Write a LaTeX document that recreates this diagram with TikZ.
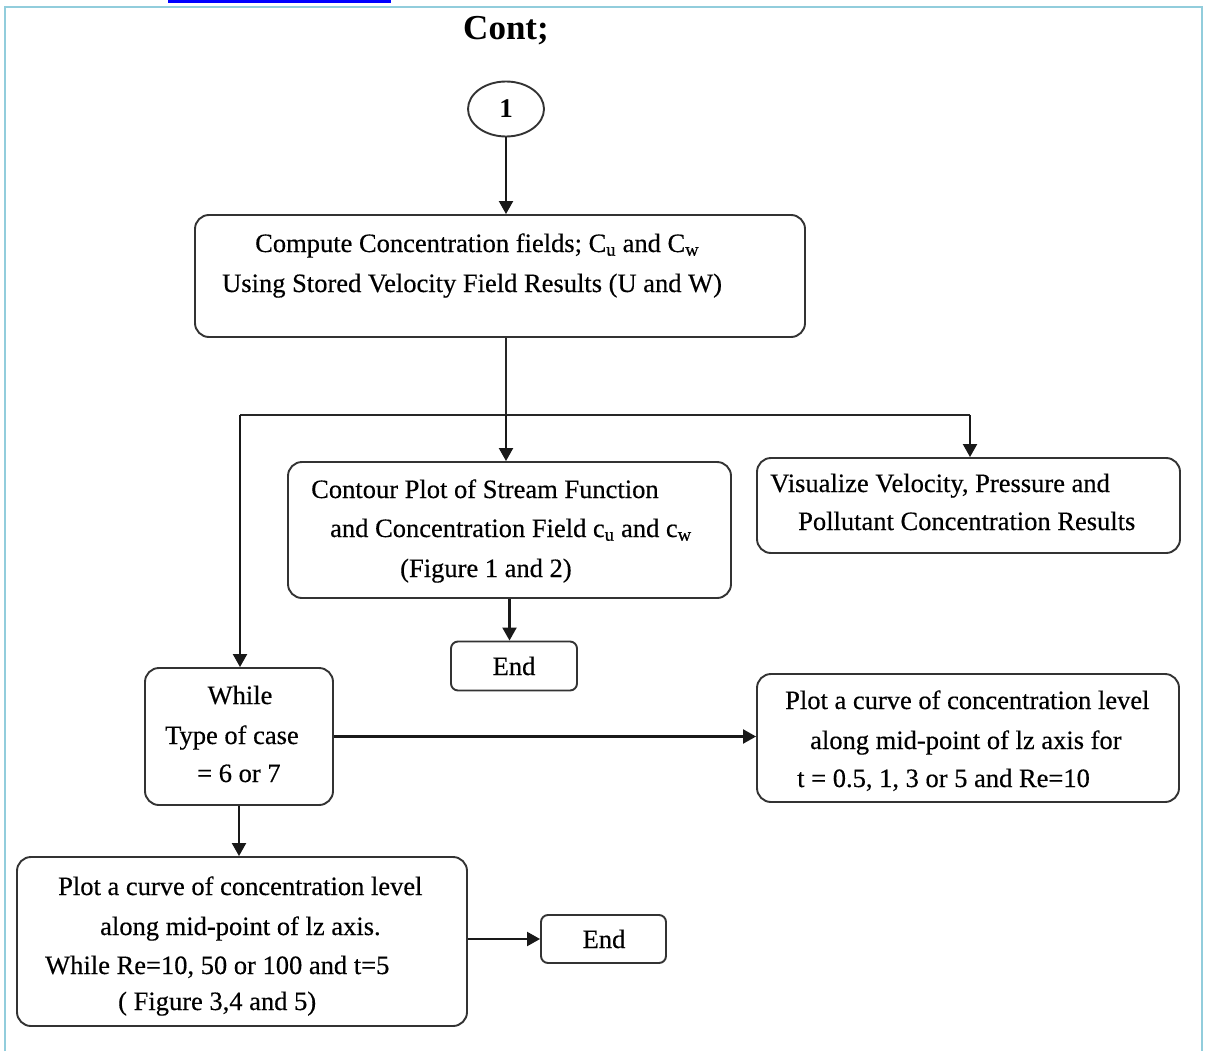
\documentclass[tikz,border=0pt]{standalone}
\usepackage{fontspec}
\setmainfont{Liberation Serif}
\newfontfamily\heavyserif{Liberation Serif}[FakeBold=0.4]
\usetikzlibrary{arrows.meta,shapes.geometric}
\definecolor{frameblue}{HTML}{92CDDC}
\definecolor{linkblue}{HTML}{0000FF}
\definecolor{boxline}{HTML}{333333}
\begin{document}
\begin{tikzpicture}[x=1pt,y=-1pt,
  box/.style={draw=boxline, line width=1.9pt, rounded corners=14pt, inner sep=0pt},
  endbox/.style={box, rounded corners=7pt},
  txt/.style={inner sep=0pt, anchor=base west, font=\heavyserif\fontsize{26.5}{30}\selectfont},
  ctxt/.style={txt, anchor=base},
  arr/.style={line width=2.1pt, draw=black!90, -{Triangle[length=13pt,width=14pt]}},
  ln/.style={line width=2pt, draw=black!85}]
\useasboundingbox (0,0) rectangle (1206,1051);
\fill[white] (0,0) rectangle (1206,1051);
% page frame and link fragment
\fill[linkblue] (168,0) rectangle (391,3);
\draw[frameblue, line width=2.5pt] (5,1051) -- (5,7) -- (1202,7) -- (1202,1051);
% title
\node[inner sep=0pt, anchor=base, font=\fontsize{35}{38}\selectfont\bfseries] (title) at (506,40) {Cont;};
% start connector
\node[draw=boxline, line width=1.9pt, ellipse, minimum width=76pt, minimum height=55pt, inner sep=0pt,
      font=\fontsize{27}{30}\selectfont\bfseries] (c1) at (506,109) {1};
% boxes
\node[box, minimum width=610pt, minimum height=122pt] (b1) at (500,276) {};
\node[box, minimum width=443pt, minimum height=136pt] (b2) at (509.5,530) {};
\node[box, minimum width=423pt, minimum height=95pt] (b3) at (968.5,505.5) {};
\node[endbox, minimum width=126pt, minimum height=49pt] (e1) at (514,666) {};
\node[box, minimum width=188pt, minimum height=137pt] (wh) at (239,736.5) {};
\node[box, minimum width=422pt, minimum height=128pt] (b4) at (968,738) {};
\node[box, minimum width=450pt, minimum height=169pt] (b5) at (242,941.5) {};
\node[endbox, minimum width=125pt, minimum height=48pt] (e2) at (603.5,939) {};
% texts
\node[txt] (b1l1) at (255,252) {Compute Concentration fields; C\textsubscript{u} and C\textsubscript{w}};
\node[txt] (b1l2) at (222,292) {Using Stored Velocity Field Results (U and W)};
\node[txt] (b2l1) at (311,498) {Contour Plot of Stream Function};
\node[txt] (b2l2) at (330,537) {and Concentration Field c\textsubscript{u} and c\textsubscript{w}};
\node[txt] (b2l3) at (400,577) {(Figure 1 and 2)};
\node[txt] (b3l1) at (770,492) {Visualize Velocity, Pressure and};
\node[txt] (b3l2) at (798,530) {Pollutant Concentration Results};
\node[ctxt] (e1t) at (514,675) {End};
\node[ctxt] (whl1) at (240,704) {While};
\node[txt] (whl2) at (165,744) {Type of case};
\node[txt] (whl3) at (197,782) {= 6 or 7};
\node[txt] (b4l1) at (785,709) {Plot a curve of concentration level};
\node[txt] (b4l2) at (810,749) {along mid-point of lz axis for};
\node[txt] (b4l3) at (797,787) {t = 0.5, 1, 3 or 5 and Re=10};
\node[txt] (b5l1) at (58,895) {Plot a curve of concentration level};
\node[txt] (b5l2) at (100,935) {along mid-point of lz axis.};
\node[txt] (b5l3) at (45,974) {While Re=10, 50 or 100 and t=5};
\node[txt] (b5l4) at (118,1010) {( Figure 3,4 and 5)};
\node[ctxt] (e2t) at (604,948) {End};
% junction coordinates
\coordinate (jm) at (506,415);
\coordinate (jl) at (240,415);
\coordinate (jr) at (970,415);
% connectors
\draw[arr] (c1.south) -- (c1.south |- b1.north);
\draw[ln] (b1.south -| jm) -- (jm);
\draw[ln] (jl) -- (jr);
\draw[arr] (jl) -- (jl |- wh.north);
\draw[arr] (jm) -- (jm |- b2.north);
\draw[arr] (jr) -- (jr |- b3.north);
\draw[arr] (b2.south) -- (b2.south |- e1.north);
\draw[arr] (wh.east) -- (wh.east -| b4.west);
\draw[arr] (wh.south) -- (wh.south |- b5.north);
\draw[arr] (e2.west -| b5.east) -- (e2.west);
\end{tikzpicture}
\end{document}
